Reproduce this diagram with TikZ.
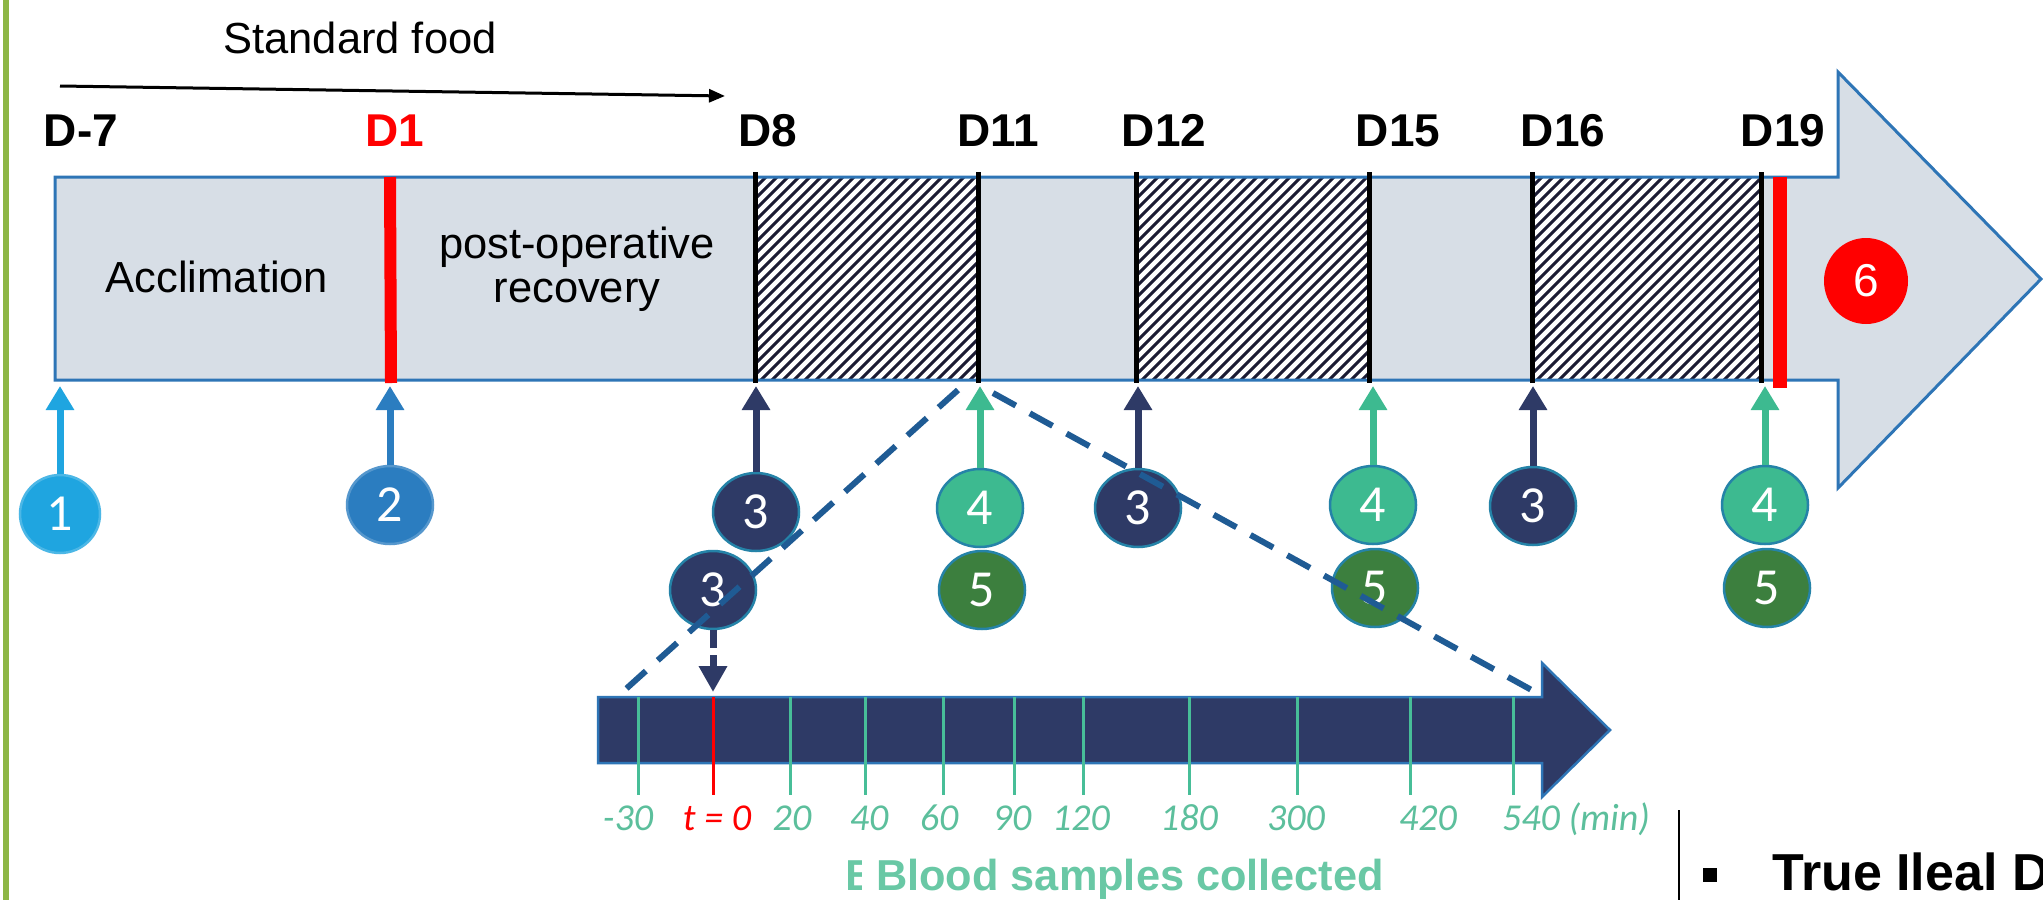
\documentclass[tikz,border=0pt]{standalone}
\usepackage{fontspec}
\setmainfont{Liberation Sans}
\newfontfamily\carl{Carlito}
\usetikzlibrary{arrows.meta,shapes.geometric}
\definecolor{barfill}{HTML}{D7DEE6}
\definecolor{barline}{HTML}{2E75B6}
\definecolor{hatchcol}{HTML}{1B1B33}
\definecolor{cone}{HTML}{1FA5E0}
\definecolor{ctwo}{HTML}{2B7DC0}
\definecolor{navy}{HTML}{2E3A66}
\definecolor{tealc}{HTML}{3DBA90}
\definecolor{greenc}{HTML}{3C7F3E}
\definecolor{circborder}{HTML}{2583A8}
\definecolor{dashcol}{HTML}{1F5B94}
\definecolor{tickcol}{HTML}{47BE98}
\definecolor{labcol}{HTML}{5CBF9C}
\definecolor{bloodcol}{HTML}{69C8A5}
\definecolor{leftgreen}{HTML}{8DB645}
\definecolor{redc}{HTML}{FF0000}
\begin{document}
\begin{tikzpicture}[x=1pt,y=-1pt,
  num/.style={ellipse, minimum width=86pt, minimum height=78pt, inner sep=0pt,
    draw=circborder, line width=2.5pt, text=white, font=\carl\fontsize{52}{56}\selectfont},
  uparr/.style={line width=7pt, -{Triangle[length=24pt,width=27pt]}},
  dlab/.style={anchor=base, inner sep=0pt, font=\fontsize{46}{50}\selectfont\bfseries},
  txt/.style={inner sep=0pt, font=\fontsize{43.5}{47}\selectfont},
  tl/.style={anchor=base, inner sep=0pt, text=labcol, font=\carl\itshape\fontsize{38}{42}\selectfont},
  hatchline/.style={draw=hatchcol, line width=3.1pt},
  dayline/.style={draw=black, line width=5pt},
  zoomdash/.style={draw=dashcol, line width=6pt, dash pattern=on 26pt off 16pt},
  tick/.style={draw=tickcol, line width=3pt}
]
\useasboundingbox (0,0) rectangle (2043,900);
\fill[white] (0,0) rectangle (2043,900);
\fill[leftgreen] (3,0) rectangle (9,900);

% standard food
\node[txt, anchor=base] (sf) at (360,53) {Standard food};
\coordinate (sfa) at (60,86);
\coordinate (sfb) at (725,96);
\draw[line width=3pt, -{Triangle[length=16pt,width=13pt]}] (sfa) -- (sfb);

% main arrow
\fill[barfill] (55,177) -- (1838,177) -- (1838,72) -- (2041,279) -- (1838,488) -- (1838,380) -- (55,380) -- cycle;
\foreach \xa/\xb in {756/978, 1137/1369, 1532/1761} {
  \fill[white] (\xa,177) rectangle (\xb,380);
  \begin{scope}
    \clip (\xa,177) rectangle (\xb,380);
    \foreach \k in {-220,-209,...,250} \draw[hatchline] (\xa+\k,385) -- ++(215,-215);
  \end{scope}
}
\draw[barline, line width=3pt, line join=miter] (55,177) -- (1838,177) -- (1838,72) -- (2041,279) -- (1838,488) -- (1838,380) -- (55,380) -- cycle;
\foreach \xd in {755,978,1136,1369,1532,1761} \draw[dayline] (\xd,172) -- (\xd,383);
\draw[redc, line width=12pt] (390,177) -- (391,383);
\draw[redc, line width=14pt] (1780,177) -- (1780,388);

% day labels
\node[dlab] (dm7) at (81,146) {D-7};
\node[dlab, text=redc] (d1) at (395,146) {D1};
\node[dlab] (d8) at (768,146) {D8};
\node[dlab] (d11) at (998,146) {D11};
\node[dlab] (d12) at (1164,146) {D12};
\node[dlab] (d15) at (1398,146) {D15};
\node[dlab] (d16) at (1563,146) {D16};
\node[dlab] (d19) at (1783,146) {D19};

\node[txt, anchor=base] (acc) at (217,292) {Acclimation};
\node[txt, anchor=base] (po1) at (577,258) {post-operative};
\node[txt, anchor=base] (po2) at (577,302) {recovery};

\node[ellipse, fill=redc, minimum width=84pt, minimum height=86pt, inner sep=0pt, text=white, font=\fontsize{46}{50}\selectfont] (c6) at (1866,281) {6};

% numbered circles
\node[num, fill=cone, draw=cone!80!white, minimum width=80pt] (c1) at (60,514) {1};
\node[num, fill=ctwo, draw=ctwo!80!white] (c2) at (390,505) {2};
\node[num, fill=navy] (c3a) at (756,512) {3};
\node[num, fill=navy] (c3b) at (713,590) {3};
\node[num, fill=tealc] (c4a) at (980,508) {4};
\node[num, fill=greenc] (c5a) at (982,590) {5};
\node[num, fill=navy] (c3c) at (1138,508) {3};
\node[num, fill=tealc] (c4b) at (1373,505) {4};
\node[num, fill=greenc] (c5b) at (1375,588) {5};
\node[num, fill=navy] (c3d) at (1533,506) {3};
\node[num, fill=tealc] (c4c) at (1765,505) {4};
\node[num, fill=greenc] (c5c) at (1767,588) {5};

\coordinate (t1) at (60,386);
\coordinate (t2) at (390,386);
\coordinate (t3a) at (756,386);
\coordinate (t4a) at (980,386);
\coordinate (t3c) at (1138,386);
\coordinate (t4b) at (1373,386);
\coordinate (t3d) at (1533,386);
\coordinate (t4c) at (1765,386);
\draw[uparr, cone] (c1) -- (t1);
\draw[uparr, ctwo] (c2) -- (t2);
\draw[uparr, navy] (c3a) -- (t3a);
\draw[uparr, tealc] (c4a) -- (t4a);
\draw[uparr, navy] (c3c) -- (t3c);
\draw[uparr, tealc] (c4b) -- (t4b);
\draw[uparr, navy] (c3d) -- (t3d);
\draw[uparr, tealc] (c4c) -- (t4c);

% small timeline
\draw[fill=navy, draw=barline, line width=2.5pt] (598,697) -- (1542,697) -- (1542,663) -- (1610,730) -- (1542,797) -- (1542,763) -- (598,763) -- cycle;
\foreach \xt in {638,790,865,943,1014,1083,1189,1297,1410,1513} \draw[tick] (\xt,697) -- (\xt,795);
\draw[redc, line width=3pt] (713,697) -- (713,795);

% zoom dashed lines
\coordinate (zl0) at (958,390);
\coordinate (zl1) at (617,697);
\coordinate (zr0) at (993,393);
\coordinate (zr1) at (1537,693);
\draw[zoomdash] (zl0) -- (zl1);
\draw[zoomdash] (zr0) -- (zr1);

\coordinate (tz) at (713,692);
\draw[navy, line width=7pt, dash pattern=on 18pt off 7pt, -{Triangle[length=26pt,width=27pt]}] (c3b) -- (tz);

% time labels
\node[tl] (lm30) at (628,830) {-30};
\node[tl, text=redc] (lt0) at (717,830) {t = 0};
\node[tl] (l20) at (792,830) {20};
\node[tl] (l40) at (869,830) {40};
\node[tl] (l60) at (939,830) {60};
\node[tl] (l90) at (1012,830) {90};
\node[tl] (l120) at (1081,830) {120};
\node[tl] (l180) at (1189,830) {180};
\node[tl] (l300) at (1296,830) {300};
\node[tl] (l420) at (1428,830) {420};
\node[tl, anchor=base west] (l540) at (1502,830) {540 (min)};

% blood samples
\begin{scope}
  \clip (848,850) rectangle (861,896);
  \node[txt, anchor=base west, text=bloodcol, font=\fontsize{43.3}{47}\selectfont\bfseries] (frag) at (845,890) {B};
\end{scope}
\node[txt, anchor=base west, text=bloodcol, font=\fontsize{43.3}{47}\selectfont\bfseries] (blood) at (876,890) {Blood samples collected};

% bottom right
\coordinate (vl0) at (1679,810);
\coordinate (vl1) at (1679,900);
\draw[black, line width=2pt] (vl0) -- (vl1);
\fill[black] (1703,868) rectangle (1717,882);
\begin{scope}
  \clip (1720,840) rectangle (2043,900);
  \node[txt, anchor=base west, font=\fontsize{52}{56}\selectfont\bfseries] (tid) at (1772,890) {True Ileal D};
\end{scope}
\end{tikzpicture}
\end{document}
